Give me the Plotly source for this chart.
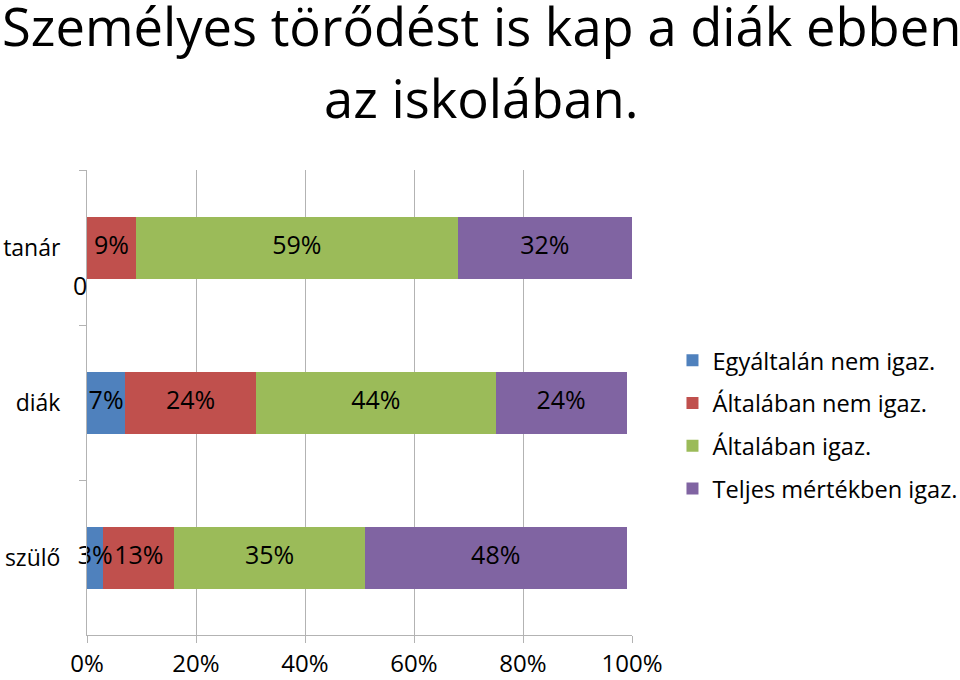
import plotly.graph_objects as go

categories = ["tanár", "diák", "szülő"]
series_names = [
    "Egyáltalán nem igaz.",
    "Általában nem igaz.",
    "Általában igaz.",
    "Teljes mértékben igaz.",
]
values = [
    [0, 7, 3],
    [9, 24, 13],
    [59, 44, 35],
    [32, 24, 48],
]
tick_vals = [0, 20, 40, 60, 80, 100]
tick_text = ["0%", "20%", "40%", "60%", "80%", "100%"]
title_lines = ["Személyes törődést is kap a diák ebben", "az iskolában."]

COLORS = ["#4F81BD", "#C0504D", "#9BBB59", "#8064A2"]
FONT = "Open Sans"

# figure geometry (px)
W, H = 960, 680
M_L, M_R, M_T, M_B = 87, 328, 170, 45
PLOT_W = W - M_L - M_R

fig = go.Figure()

for idx, name in enumerate(series_names):
    fig.add_trace(
        go.Bar(
            name=name,
            legendgroup=name,
            y=categories,
            x=values[idx],
            orientation="h",
            marker=dict(color=COLORS[idx], line=dict(width=0)),
            textposition="none",
        )
    )

# data labels centred in each segment (segment midpoints from the stacked values)
label_x, label_y, label_text = [], [], []
for c_idx, cat in enumerate(categories):
    start = 0
    for s_idx in range(len(series_names)):
        v = values[s_idx][c_idx]
        if v > 0:
            label_x.append(start + v / 2)
            label_y.append(cat)
            label_text.append(f"{v}%")
        start += v

fig.add_trace(
    go.Scatter(
        x=label_x,
        y=label_y,
        text=label_text,
        mode="text",
        textposition="middle center",
        textfont=dict(family=FONT, size=25, color="black"),
        showlegend=False,
        hoverinfo="skip",
        cliponaxis=False,
    )
)

# zero-valued segment label
fig.add_annotation(
    x=0, y="tanár", text="0", showarrow=False,
    xshift=-7, yshift=-37,
    font=dict(family=FONT, size=25, color="black"),
)

# title, two centred lines
for text, shift in zip(title_lines, [145, 73]):
    fig.add_annotation(
        x=0.5, xref="paper", xanchor="center",
        y=1, yref="paper", yanchor="middle",
        xshift=481 - M_L - PLOT_W / 2,
        yshift=shift,
        text=text, showarrow=False,
        font=dict(family=FONT, size=52.5, color="black"),
    )

fig.update_layout(
    barmode="stack",
    bargap=0.6,
    width=W,
    height=H,
    paper_bgcolor="white",
    plot_bgcolor="white",
    font=dict(family=FONT, color="black"),
    margin=dict(l=M_L, r=M_R, t=M_T, b=M_B, pad=0),
    legend=dict(
        xref="container",
        yref="container",
        x=0.7005,
        xanchor="left",
        y=0.3757,
        yanchor="middle",
        traceorder="grouped",
        font=dict(family=FONT, size=23.6, color="black"),
        itemwidth=30,
        tracegroupgap=9,
    ),
    xaxis=dict(
        range=[0, 100],
        tickvals=tick_vals,
        ticktext=tick_text,
        showgrid=True,
        gridcolor="#B3B3B3",
        gridwidth=1,
        showline=True,
        linecolor="#B3B3B3",
        ticks="outside",
        ticklen=7,
        tickcolor="#B3B3B3",
        tickfont=dict(family=FONT, size=24, color="black"),
        zeroline=False,
        automargin=False,
    ),
    yaxis=dict(
        categoryorder="array",
        categoryarray=categories,
        autorange="reversed",
        showline=True,
        linecolor="#B3B3B3",
        ticks="outside",
        tickson="boundaries",
        ticklen=7,
        tickcolor="#B3B3B3",
        ticklabelstandoff=21,
        tickfont=dict(family=FONT, size=23, color="black"),
        showgrid=False,
        automargin=False,
    ),
)

fig.write_html(
    "out.html",
    config=dict(displayModeBar=False),
    post_script="document.body.style.margin = '0';",
)
